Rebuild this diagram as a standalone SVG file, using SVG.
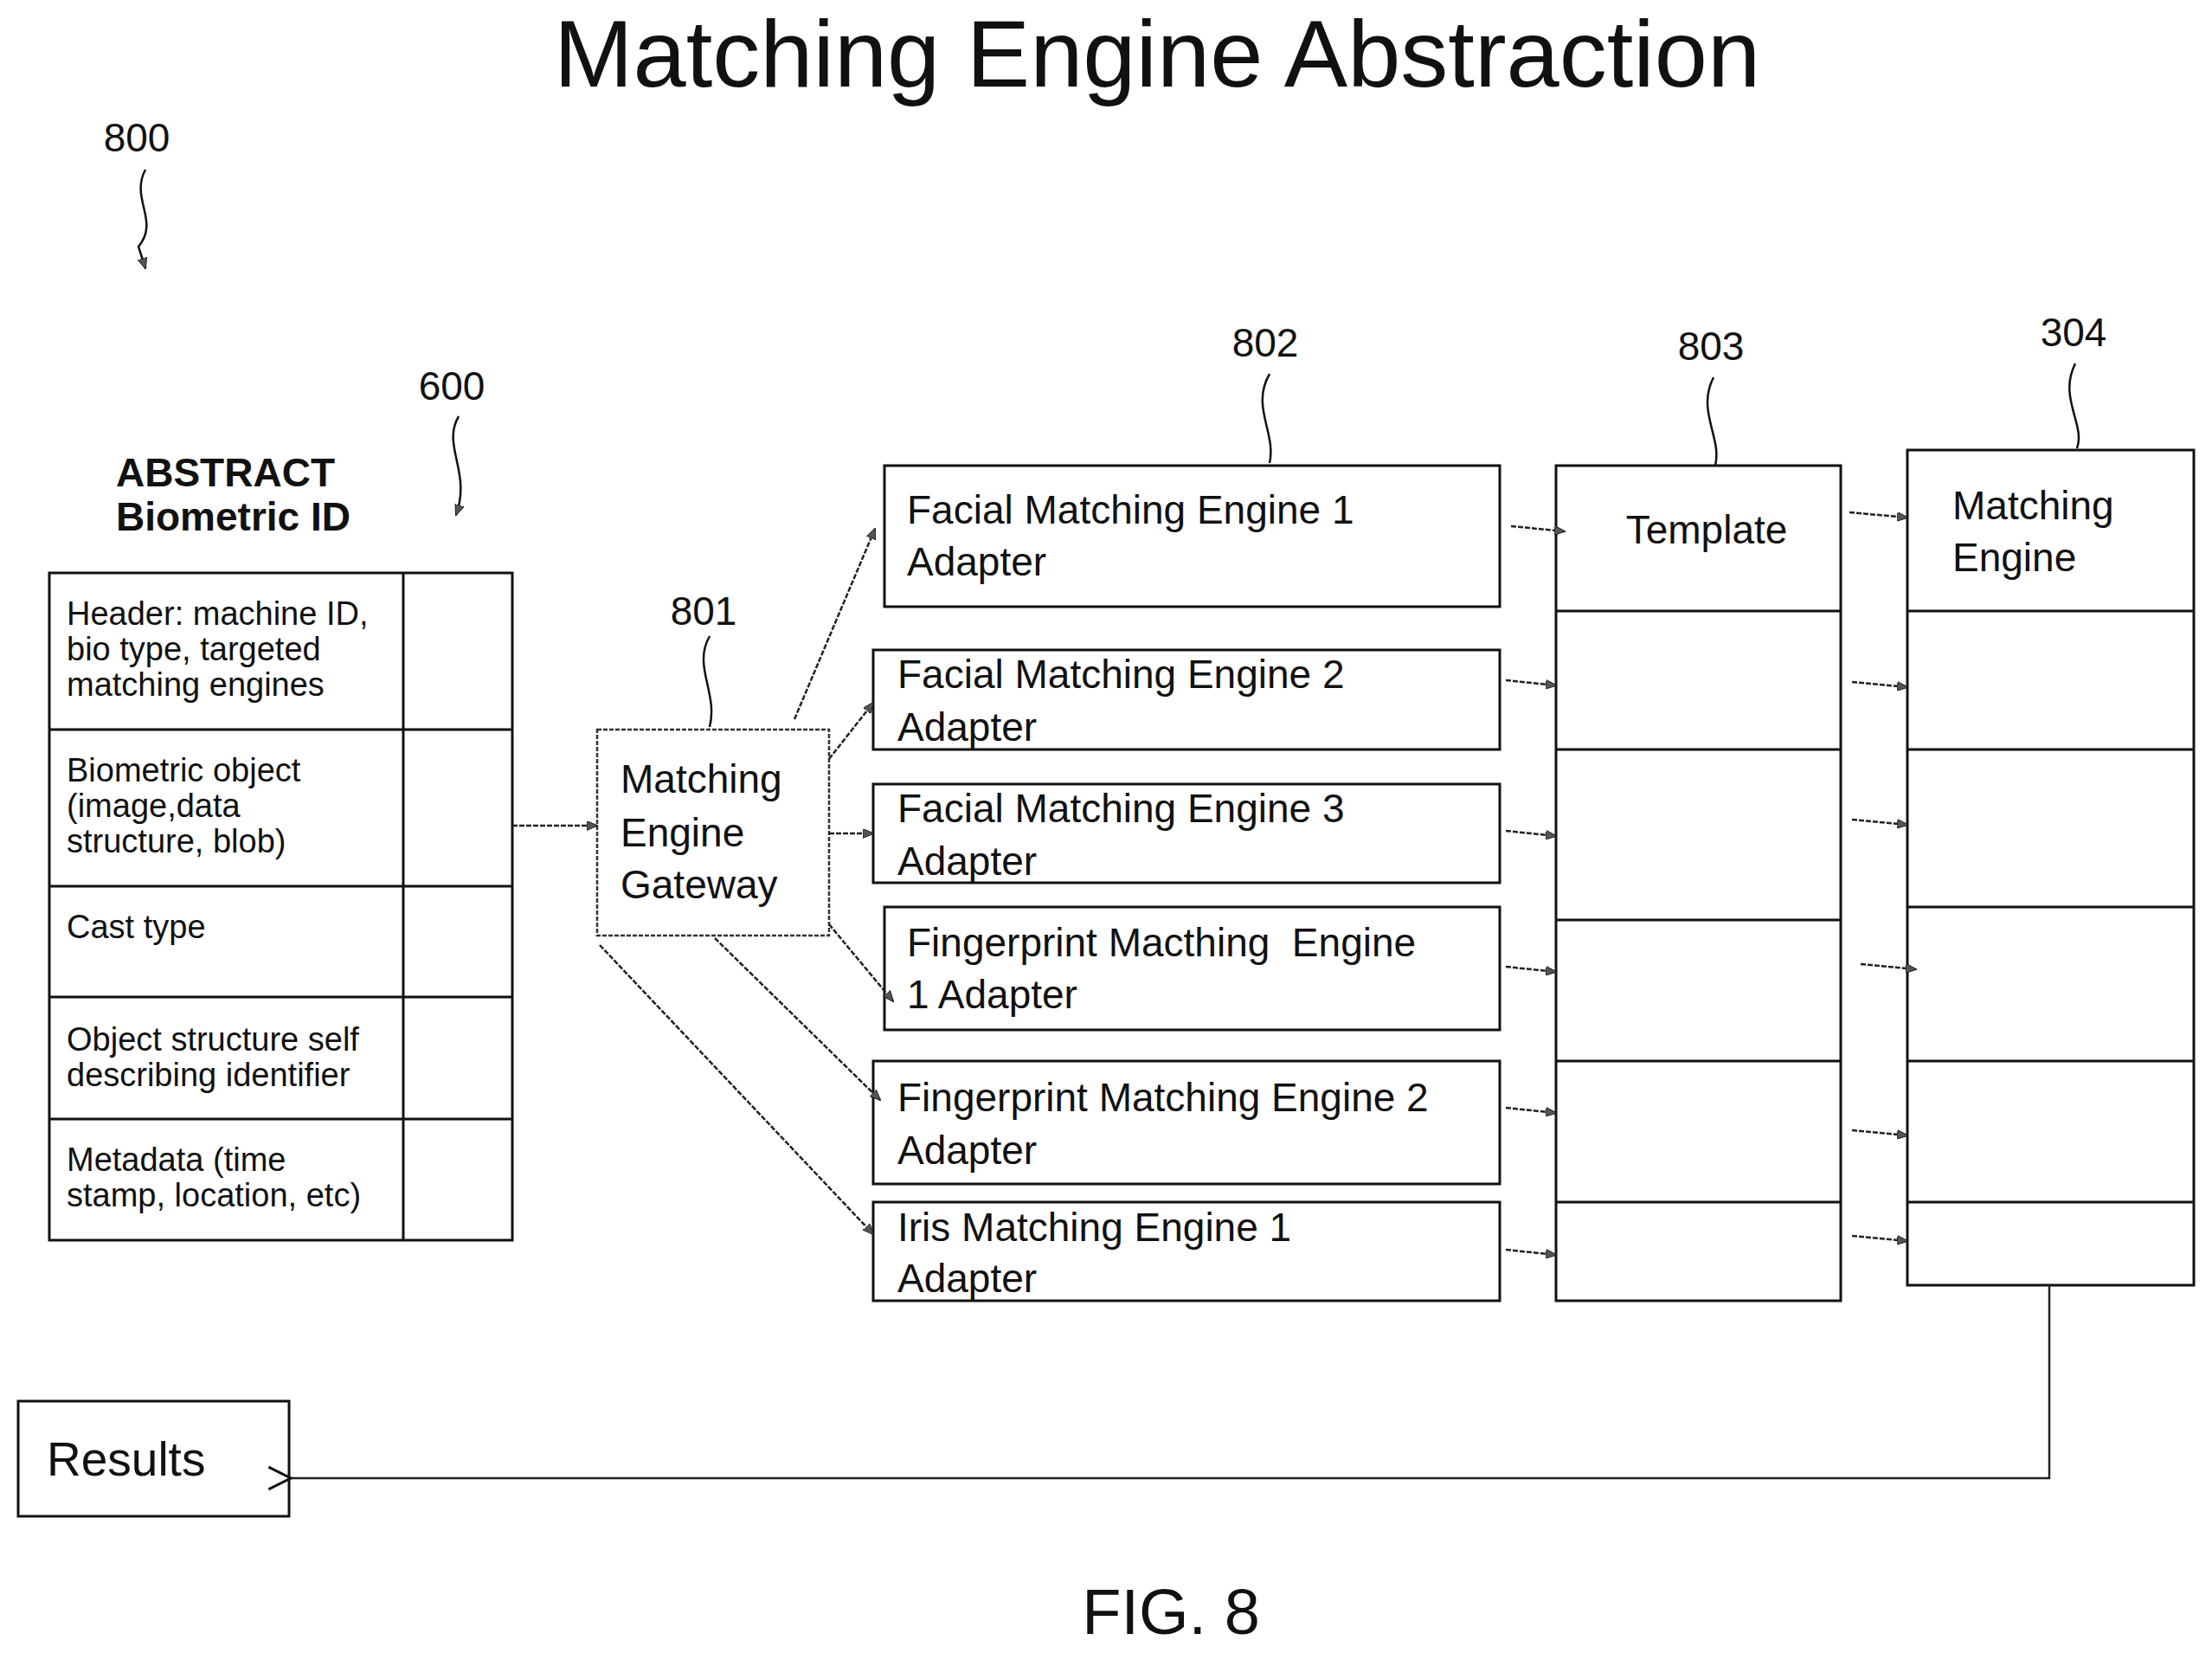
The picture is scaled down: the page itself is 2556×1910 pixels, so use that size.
<svg xmlns="http://www.w3.org/2000/svg" width="2556" height="1910" viewBox="0 0 2556 1910">
<style>
text{font-family:"Liberation Sans",Arial,sans-serif;fill:#111}
.box{fill:#fff;stroke:#111;stroke-width:3}
.ln{stroke:#111;stroke-width:3}
.c{fill:none;stroke:#222;stroke-width:2.5;stroke-dasharray:6 2;marker-end:url(#ah)}
.sq{fill:none;stroke:#111;stroke-width:2.5}
.t{font-size:38px}
.a{font-size:46px}
.n{font-size:46px}
</style>
<defs>
<marker id="ah" viewBox="0 0 12 10" refX="11" refY="5" markerWidth="13" markerHeight="11" markerUnits="userSpaceOnUse" orient="auto" >
<path d="M0,0 L12,5 L0,10 Z" fill="#555" stroke="#111" stroke-width="0.8"/>
</marker>
<marker id="oh" viewBox="0 0 14 14" refX="1" refY="7" markerWidth="30" markerHeight="30" markerUnits="userSpaceOnUse" orient="auto">
<path d="M13,1 L1,7 L13,13" fill="none" stroke="#111" stroke-width="1.4"/>
</marker>
</defs>
<rect width="2556" height="1910" fill="#fff"/>
<text x="1337" y="100" font-size="110" text-anchor="middle">Matching Engine Abstraction</text>
<g id="ref800"><text x="158" y="175" class="n" text-anchor="middle">800</text><path class="sq" d="M168,196 C150,230 185,255 160,285 L168,310" marker-end="url(#ah)"/></g>
<g id="ref600"><text x="522" y="462" class="n" text-anchor="middle">600</text><path class="sq" d="M530,481 C510,515 545,545 527,595" marker-end="url(#ah)"/></g>
<g id="abstract">
<text x="134" y="562" font-size="46" font-weight="bold">ABSTRACT</text>
<text x="134" y="613" font-size="46" font-weight="bold">Biometric ID</text>
<rect class="box" x="57" y="662" width="535" height="771"/>
<line class="ln" x1="466" y1="662" x2="466" y2="1433"/>
<line class="ln" x1="57" y1="843" x2="592" y2="843"/>
<line class="ln" x1="57" y1="1024" x2="592" y2="1024"/>
<line class="ln" x1="57" y1="1152" x2="592" y2="1152"/>
<line class="ln" x1="57" y1="1293" x2="592" y2="1293"/>
<text class="t" x="77" y="722">Header: machine ID,</text>
<text class="t" x="77" y="763">bio type, targeted</text>
<text class="t" x="77" y="804">matching engines</text>
<text class="t" x="77" y="903">Biometric object</text>
<text class="t" x="77" y="944">(image,data</text>
<text class="t" x="77" y="985">structure, blob)</text>
<text class="t" x="77" y="1084">Cast type</text>
<text class="t" x="77" y="1214">Object structure self</text>
<text class="t" x="77" y="1255">describing identifier</text>
<text class="t" x="77" y="1353">Metadata (time</text>
<text class="t" x="77" y="1394">stamp, location, etc)</text>
</g>
<g id="gateway">
<text x="813" y="722" class="n" text-anchor="middle">801</text><path class="sq" d="M820,735 C800,770 830,800 820,840"/>
<rect x="690" y="843" width="268" height="238" fill="#fff" stroke="#333" stroke-width="2.5" stroke-dasharray="5 2"/>
<text class="a" x="717" y="916">Matching</text><text class="a" x="717" y="978">Engine</text><text class="a" x="717" y="1038">Gateway</text>
</g>
<g id="adapters">
<text x="1462" y="412" class="n" text-anchor="middle">802</text><path class="sq" d="M1467,432 C1445,470 1475,500 1467,535"/>
<rect class="box" x="1022" y="538" width="711" height="163"/><text class="a" x="1048" y="605">Facial Matching Engine 1</text><text class="a" x="1048" y="665">Adapter</text>
<rect class="box" x="1009" y="751" width="724" height="115"/><text class="a" x="1037" y="795">Facial Matching Engine 2</text><text class="a" x="1037" y="856">Adapter</text>
<rect class="box" x="1009" y="906" width="724" height="114"/><text class="a" x="1037" y="950">Facial Matching Engine 3</text><text class="a" x="1037" y="1011">Adapter</text>
<rect class="box" x="1022" y="1048" width="711" height="142"/><text class="a" x="1048" y="1105" xml:space="preserve">Fingerprint Macthing  Engine</text><text class="a" x="1048" y="1165">1 Adapter</text>
<rect class="box" x="1009" y="1226" width="724" height="142"/><text class="a" x="1037" y="1284">Fingerprint Matching Engine 2</text><text class="a" x="1037" y="1345">Adapter</text>
<rect class="box" x="1009" y="1389" width="724" height="114"/><text class="a" x="1037" y="1434">Iris Matching Engine 1</text><text class="a" x="1037" y="1493">Adapter</text>
</g>
<g id="template">
<text x="1977" y="416" class="n" text-anchor="middle">803</text><path class="sq" d="M1980,436 C1960,475 1990,505 1982,538"/>
<rect class="box" x="1798" y="538" width="329" height="965"/>
<line class="ln" x1="1798" y1="706" x2="2127" y2="706"/><line class="ln" x1="1798" y1="866" x2="2127" y2="866"/><line class="ln" x1="1798" y1="1063" x2="2127" y2="1063"/><line class="ln" x1="1798" y1="1226" x2="2127" y2="1226"/><line class="ln" x1="1798" y1="1389" x2="2127" y2="1389"/>
<text class="a" x="1972" y="628" text-anchor="middle">Template</text>
</g>
<g id="engine">
<text x="2396" y="400" class="n" text-anchor="middle">304</text><path class="sq" d="M2398,420 C2378,460 2410,490 2400,518"/>
<rect class="box" x="2204" y="520" width="331" height="965"/>
<line class="ln" x1="2204" y1="706" x2="2535" y2="706"/><line class="ln" x1="2204" y1="866" x2="2535" y2="866"/><line class="ln" x1="2204" y1="1048" x2="2535" y2="1048"/><line class="ln" x1="2204" y1="1226" x2="2535" y2="1226"/><line class="ln" x1="2204" y1="1389" x2="2535" y2="1389"/>
<text class="a" x="2256" y="600">Matching</text><text class="a" x="2256" y="660">Engine</text>
</g>
<g id="results"><rect class="box" x="21" y="1619" width="313" height="133"/><text x="54" y="1705" font-size="55">Results</text></g>
<g id="connectors">
<line class="c" x1="592" y1="954" x2="690" y2="954"/>
<line class="c" x1="918" y1="831" x2="1011" y2="611"/>
<line class="c" x1="958" y1="877" x2="1009" y2="812"/>
<line class="c" x1="958" y1="963" x2="1009" y2="963"/>
<line class="c" x1="958" y1="1068" x2="1032" y2="1157"/>
<line class="c" x1="826" y1="1084" x2="1017" y2="1271"/>
<line class="c" x1="693" y1="1092" x2="1009" y2="1426"/>
<line class="c" x1="1746" y1="608" x2="1808" y2="614"/>
<line class="c" x1="1740" y1="786" x2="1798" y2="792"/>
<line class="c" x1="1740" y1="960" x2="1798" y2="966"/>
<line class="c" x1="1740" y1="1117" x2="1798" y2="1123"/>
<line class="c" x1="1740" y1="1280" x2="1798" y2="1286"/>
<line class="c" x1="1740" y1="1444" x2="1798" y2="1450"/>
<line class="c" x1="2137" y1="592" x2="2204" y2="598"/>
<line class="c" x1="2140" y1="788" x2="2204" y2="794"/>
<line class="c" x1="2140" y1="947" x2="2204" y2="953"/>
<line class="c" x1="2150" y1="1114" x2="2214" y2="1120"/>
<line class="c" x1="2140" y1="1306" x2="2204" y2="1312"/>
<line class="c" x1="2140" y1="1428" x2="2204" y2="1434"/>
<path d="M2368,1485 L2368,1708 L336,1708" fill="none" stroke="#222" stroke-width="2.5" marker-end="url(#oh)"/>
</g>
<text x="1353" y="1888" font-size="74" text-anchor="middle" font-family="Open Sans, sans-serif">FIG. 8</text>
</svg>
